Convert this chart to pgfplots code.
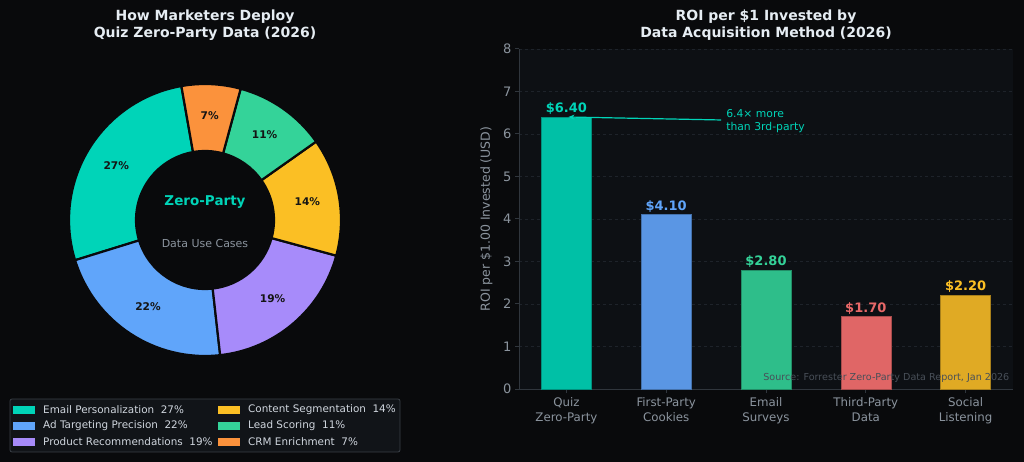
\documentclass[border=0pt]{standalone}
\usepackage{pgfplots}
\pgfplotsset{compat=1.18}
\usepackage{fontspec}
\setmainfont{DejaVu Sans}
\usetikzlibrary{arrows.meta,calc}

\definecolor{figbg}{RGB}{9,10,12}
\definecolor{axbg}{RGB}{13,16,20}
\definecolor{titlec}{RGB}{230,237,243}
\definecolor{tickc}{RGB}{139,148,158}
\definecolor{spine}{RGB}{48,54,61}
\definecolor{gridc}{RGB}{30,35,42}
\definecolor{srcc}{RGB}{72,79,88}
\definecolor{legbg}{RGB}{17,20,24}
\definecolor{legedge}{RGB}{58,63,71}
\definecolor{legtxt}{RGB}{208,214,222}
\definecolor{cEmail}{HTML}{00D4B8}
\definecolor{cAd}{HTML}{60A5FA}
\definecolor{cProd}{HTML}{A78BFA}
\definecolor{cCont}{HTML}{FBBF24}
\definecolor{cLead}{HTML}{34D399}
\definecolor{cCRM}{HTML}{FB923C}
\definecolor{bQuiz}{RGB}{0,192,166}
\definecolor{bFirst}{RGB}{90,150,228}
\definecolor{bEmail}{RGB}{46,190,138}
\definecolor{bThird}{RGB}{224,102,102}
\definecolor{bSocial}{RGB}{224,170,36}
\definecolor{lThird}{RGB}{232,104,104}

\begin{document}
\begin{tikzpicture}
\fill[figbg] (0,0) rectangle (1024bp,462bp);
\path[use as bounding box] (0,0) rectangle (1024bp,462bp);

% Titles
\node[align=center, text=titlec, font=\fontsize{14bp}{16.5bp}\selectfont\bfseries] at (205bp,437bp) {How Marketers Deploy\\Quiz Zero-Party Data (2026)};
\node[align=center, text=titlec, font=\fontsize{14bp}{16.5bp}\selectfont\bfseries] at (766bp,437bp) {ROI per \$1 Invested by\\Data Acquisition Method (2026)};

% Donut
\begin{axis}[
  hide axis, x=1bp, y=1bp,
  xmin=-140, xmax=140, ymin=-140, ymax=140,
  anchor=origin, at={(205bp,242bp)}, clip=false]
\addplot[draw=none] coordinates {(0,0)};
\pgfplotsextra{
  \xdef\cum{100}
  \foreach \v/\c in {27/cEmail,22/cAd,19/cProd,14/cCont,11/cLead,7/cCRM}{
    \pgfmathsetmacro\s{\cum}
    \pgfmathsetmacro\e{\cum+3.6*\v}
    \pgfmathsetmacro\m{(\s+\e)/2}
    \xdef\cum{\e}
    \filldraw[fill=\c, draw=figbg, line width=2.2bp, line join=round]
      (axis cs:0,0) ++(\s:136bp) arc[start angle=\s, end angle=\e, radius=136bp]
      -- ++(\e:-67bp) arc[start angle=\e, end angle=\s, radius=69bp] -- cycle;
    \node[text=black!92, font=\fontsize{10.6bp}{12bp}\selectfont\bfseries] at ($(axis cs:0,0)+(\m:104bp)$) {\v\%};
  }
}
\node[text=cEmail, font=\fontsize{13.5bp}{16bp}\selectfont\bfseries] at (axis cs:0,18) {Zero-Party};
\node[text=tickc, font=\fontsize{11bp}{13bp}\selectfont] at (axis cs:0,-23) {Data Use Cases};
\end{axis}

% Legend
\filldraw[fill=legbg, draw=legedge, line width=0.8bp, rounded corners=2bp] (10bp,10bp) rectangle (400bp,63bp);
\foreach \x/\y/\c/\t in {
  13/52/cEmail/{Email Personalization\ \ 27\%},
  13/36/cAd/{Ad Targeting Precision\ \ 22\%},
  13/20/cProd/{Product Recommendations\ \ 19\%},
  218/52/cCont/{Content Segmentation\ \ 14\%},
  218/36/cLead/{Lead Scoring\ \ 11\%},
  218/20/cCRM/{CRM Enrichment\ \ 7\%}}{
  \fill[\c] (\x bp,\y bp-4bp) rectangle (\x bp+22bp,\y bp+4bp);
  \node[anchor=west, inner sep=0pt, text=legtxt, font=\fontsize{10.4bp}{12bp}\selectfont] at (\x bp+30bp,\y bp) {\t};
}

% Bar chart
\begin{axis}[
  at={(519bp,73bp)}, anchor=south west,
  width=494bp, height=340bp, scale only axis,
  xmin=-0.475, xmax=4.475, ymin=0, ymax=8,
  axis background/.style={fill=axbg},
  axis x line*=bottom, axis y line*=left,
  axis line style={spine, line width=1bp, -},
  xtick={0,1,2,3,4},
  xticklabels={{Quiz\\Zero-Party},{First-Party\\Cookies},{Email\\Surveys},{Third-Party\\Data},{Social\\Listening}},
  xticklabel style={align=center, text=tickc, font=\fontsize{11.8bp}{15bp}\selectfont, yshift=-1bp},
  ytick={0,1,...,8},
  yticklabel style={text=tickc, font=\fontsize{13bp}{15bp}\selectfont},
  /pgf/number format/assume math mode=true,
  tick style={spine, line width=1bp},
  major tick length=4bp, tick align=outside,
  ymajorgrids, grid style={gridc, dashed, line width=0.6bp},
  ylabel={ROI per \$1.00 Invested (USD)},
  ylabel style={text=tickc, font=\fontsize{12.5bp}{14bp}\selectfont, yshift=4bp},
  ybar, bar width=50bp, bar shift=0pt,
  clip=false,
  nodes near coords={\$\pgfmathprintnumber[fixed,fixed zerofill,precision=2]{\pgfplotspointmeta}},
  every node near coord/.append style={font=\fontsize{13bp}{15bp}\selectfont\bfseries, yshift=-1bp},
]
\addplot[fill=bQuiz, draw=bQuiz!75!black, line width=0.6bp, nodes near coords style={text=cEmail}] coordinates {(0,6.40)};
\addplot[fill=bFirst, draw=bFirst!75!black, line width=0.6bp, nodes near coords style={text=cAd}] coordinates {(1,4.10)};
\addplot[fill=bEmail, draw=bEmail!75!black, line width=0.6bp, nodes near coords style={text=cLead}] coordinates {(2,2.80)};
\addplot[fill=bThird, draw=bThird!75!black, line width=0.6bp, nodes near coords style={text=lThird}] coordinates {(3,1.70)};
\addplot[fill=bSocial, draw=bSocial!75!black, line width=0.6bp, nodes near coords style={text=cCont}] coordinates {(4,2.20)};
\draw[cEmail, line width=1.2bp, -{Stealth[length=6bp,width=5bp]}] (axis cs:1.55,6.33) -- (axis cs:0.02,6.4);
\node[anchor=west, align=left, text=cEmail, font=\fontsize{10.8bp}{13bp}\selectfont, inner sep=0pt] at (axis cs:1.60,6.31) {6.4× more\\than 3rd-party};
\node[anchor=east, text=srcc, font=\fontsize{9.6bp}{11bp}\selectfont, inner sep=0pt] at (rel axis cs:0.993,0.033) {Source: Forrester Zero-Party Data Report, Jan 2026};
\end{axis}
\end{tikzpicture}
\end{document}
